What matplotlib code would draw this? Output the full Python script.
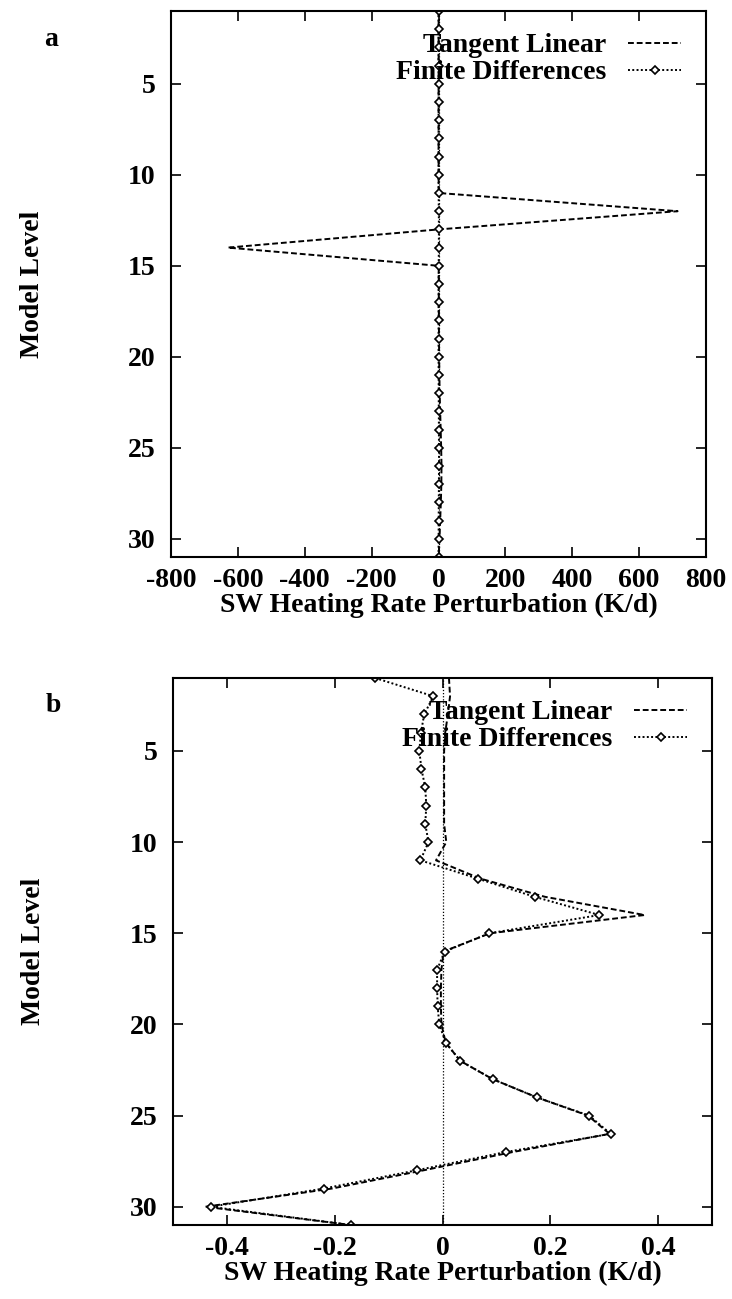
import matplotlib
matplotlib.use('Agg')
import matplotlib.pyplot as plt
import numpy as np

levels = np.arange(1, 32)

# (a) SW heating rate perturbation, K/d
tl_a = [0.5, 0.4, 0.3, 0.3, 0.3, 0.3, 0.3, 0.3, 0.3, 0.4, 0.5, 715, 0.5, -630, 0.6,
        0.8, 1.0, 1.2, 1.5, 2.0, 2.5, 3.5, 5.0, 6.5, 8.0, 9.0, 8.5, 7.0, 5.0, 3.0, 0.5]
fd_a = [0.3, 0.2, 0.1, 0.2, 0.3, 0.2, 0.1, 0.2, 0.1, 0.2, 0.4, 0.9, 1.2, 1.0, 0.6,
        0.3, 0.2, 0.2, 0.1, 0.2, 0.4, 0.6, 0.9, 1.2, 1.4, 1.5, 1.2, 0.8, 0.5, 0.3, 0.2]

# (b)
tl_b = [0.012, 0.014, 0.010, 0.005, 0.003, 0.003, 0.003, 0.003, 0.003, 0.007, -0.012,
        0.070, 0.190, 0.375, 0.088, 0.002, -0.002, -0.003, -0.003, -0.002, 0.006,
        0.033, 0.093, 0.175, 0.270, 0.310, 0.130, -0.035, -0.205, -0.440, -0.170]
fd_b = [-0.125, -0.017, -0.034, -0.040, -0.043, -0.039, -0.032, -0.030, -0.032, -0.026,
        -0.041, 0.065, 0.171, 0.291, 0.087, 0.004, -0.010, -0.010, -0.009, -0.006,
        0.006, 0.033, 0.093, 0.175, 0.272, 0.312, 0.117, -0.048, -0.220, -0.430, -0.170]

xticks_a = [-800, -600, -400, -200, 0, 200, 400, 600, 800]
xticks_b = [-0.4, -0.2, 0, 0.2, 0.4]
xtick_labels_b = ['-0.4', '-0.2', '0', '0.2', '0.4']
yticks = [5, 10, 15, 20, 25, 30]

plt.rcParams['font.family'] = 'Liberation Serif'
plt.rcParams['font.weight'] = 'bold'
plt.rcParams['axes.labelweight'] = 'bold'
plt.rcParams['font.size'] = 20

W, H = 732, 1299
fig = plt.figure(figsize=(W / 100, H / 100), dpi=100)


def panel(box, tl, fd, xlim, xticks, xlabels, tag):
    l, t, r, b = box
    ax = fig.add_axes([l / W, 1 - b / H, (r - l) / W, (b - t) / H])
    ax.axvline(0, color='black', lw=0.9, ls=(0, (1, 1.5)))
    ax.plot(tl, levels, color='black', lw=1.4, ls=(0, (3, 1.5)), label='Tangent Linear')
    ax.plot(fd, levels, color='black', lw=1.4, ls=(0, (1, 1.2)), marker='D', ms=4.5,
            mfc='white', mec='black', mew=1.2, label='Finite Differences')
    ax.set_xlim(*xlim)
    ax.set_ylim(31, 1)
    ax.set_xticks(xticks)
    ax.set_xticklabels(xlabels)
    ax.set_yticks(yticks)
    ax.tick_params(direction='in', length=7, width=1.2, top=True, right=True)
    ax.tick_params(axis='y', pad=11)
    ax.tick_params(axis='x', pad=8)
    for s in ax.spines.values():
        s.set_linewidth(1.5)
    ax.set_xlabel('SW Heating Rate Perturbation (K/d)', labelpad=0)
    ax.set_ylabel('Model Level')
    ax.yaxis.set_label_coords(-0.235, 0.5)
    ax.legend(loc='upper right', bbox_to_anchor=(1 - 25 / (r - l), 1 - 22 / (b - t)),
              markerfirst=False, frameon=False, borderpad=0, borderaxespad=0,
              handlelength=1.9, handletextpad=0.8, labelspacing=0.05)
    fig.text((l - 120) / W, 1 - (t + 28) / H, tag, fontsize=20, fontweight='bold',
             ha='center', va='center')
    return ax


panel((171, 11, 706, 557), tl_a, fd_a, (-800, 800), xticks_a,
      [str(v) for v in xticks_a], 'a')
panel((173, 678, 712, 1225), tl_b, fd_b, (-0.5, 0.5), xticks_b, xtick_labels_b, 'b')

plt.savefig('out.png', dpi=100)
